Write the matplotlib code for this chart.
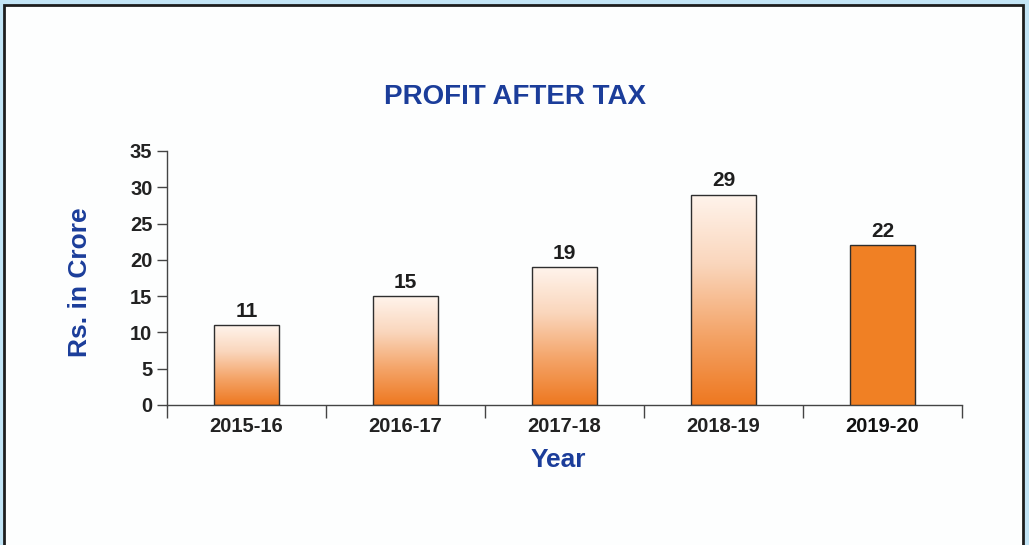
import matplotlib
matplotlib.use("Agg")
import matplotlib.pyplot as plt
import numpy as np
from matplotlib.patches import Rectangle
from matplotlib.colors import LinearSegmentedColormap

years = ["2015-16", "2016-17", "2017-18", "2018-19", "2019-20"]
profit = [11, 15, 19, 29, 22]
yticks = [0, 5, 10, 15, 20, 25, 30, 35]

plt.rcParams['font.family'] = ['Liberation Sans', 'DejaVu Sans']

W, H = 1029, 545
fig = plt.figure(figsize=(W / 100, H / 100), dpi=100)
fig.patch.set_facecolor('#C3E5F6')

# white panel with dark border
panel = Rectangle((4 / W, -0.02), (1023 - 4) / W, 1 - 5 / H + 0.02,
                  transform=fig.transFigure, facecolor='#FDFEFE',
                  edgecolor='#1E1E1E', linewidth=2, zorder=-5)
fig.patches.append(panel)

ax = fig.add_axes([167 / W, 1 - 405 / H, (962 - 167) / W, (405 - 151) / H])
ax.set_facecolor('none')
ax.set_zorder(2)

x = np.arange(len(years))
bars = ax.bar(x, profit, width=0.41, facecolor='none', edgecolor='#2E2E2E',
              linewidth=1.0, zorder=3)

cmap = LinearSegmentedColormap.from_list(
    'peach', ['#FFF4EC', '#FAD6BC', '#F4A468', '#EE7820'])
grad = np.linspace(0, 1, 256).reshape(-1, 1)
for i, b in enumerate(bars):
    x0, w, h = b.get_x(), b.get_width(), b.get_height()
    if i == len(bars) - 1:
        b.set_facecolor('#F08024')
    else:
        im = ax.imshow(grad, cmap=cmap, aspect='auto',
                       extent=(x0, x0 + w, 0, h), origin='upper',
                       interpolation='bicubic', zorder=2)
        im.set_clip_path(b)
        b.set_zorder(4)
    ax.text(x[i], h + 0.6, str(profit[i]), ha='center', va='bottom',
            fontsize=15, fontweight='bold', color='#1E1E1E', zorder=5)

ax.set_xlim(-0.5, len(years) - 0.5)
ax.set_ylim(0, 35)
ax.set_yticks(yticks)
ax.set_yticklabels([str(v) for v in yticks], fontsize=14.5,
                   fontweight='bold', color='#222222')
ax.set_xticks(x)
ax.set_xticklabels(years, fontsize=14.5, fontweight='bold', color='#222222')
ax.get_xticklabels()[-1].set_color('#111111')
ax.set_xticks(np.arange(-0.5, len(years)), minor=True)
ax.tick_params(axis='x', which='major', length=0, pad=9)
ax.tick_params(axis='x', which='minor', length=9, width=1, color='#444444',
               direction='out')
ax.tick_params(axis='y', length=7, width=1, color='#444444', pad=3.5)

for s in ['top', 'right']:
    ax.spines[s].set_visible(False)
for s in ['left', 'bottom']:
    ax.spines[s].set_color('#444444')
    ax.spines[s].set_linewidth(1)

blue = '#1B3D9A'
fig.text(515 / W, 1 - 97 / H, 'PROFIT AFTER TAX', ha='center', va='center',
         fontsize=20, fontweight='bold', color=blue)
fig.text(80 / W, 1 - 282 / H, 'Rs. in Crore', ha='center', va='center',
         rotation=90, fontsize=19, fontweight='bold', color=blue)
fig.text(558 / W, 1 - 460 / H, 'Year', ha='center', va='center',
         fontsize=19, fontweight='bold', color=blue)

fig.savefig('out.png', dpi=100, facecolor=fig.get_facecolor())
